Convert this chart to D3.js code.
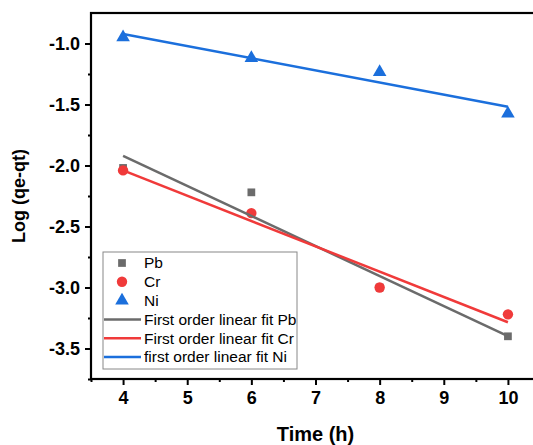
<!DOCTYPE html>
<html>
<head>
<meta charset="utf-8">
<script src="https://cdn.jsdelivr.net/npm/d3@7"></script>
<style>
  body { margin: 0; background: #fff; }
  svg { display: block; font-family: "Liberation Sans", Arial, sans-serif; }
</style>
</head>
<body>
<div id="chart"></div>
<script>
// Datos
var times = [4, 6, 8, 10];
var pb = [-2.02, -2.22, -3.0, -3.40];
var cr = [-2.04, -2.39, -3.0, -3.22];
var ni = [-0.95, -1.12, -1.235, -1.575];
var xTicks = [4, 5, 6, 7, 8, 9, 10];
var yTicks = [-1.0, -1.5, -2.0, -2.5, -3.0, -3.5];

var W = 533, H = 445;
var margin = {top: 13, left: 91};
var plotRight = 540, plotBottom = 379;

var svg = d3.select("#chart").append("svg")
  .attr("width", W).attr("height", H);

var x = d3.scaleLinear().domain([3.5, 10.5]).range([margin.left, plotRight]);
var y = d3.scaleLinear().domain([-3.75, -0.75]).range([plotBottom, margin.top]);

// ajuste lineal por minimos cuadrados
function fit(xs, ys) {
  var mx = d3.mean(xs), my = d3.mean(ys);
  var num = d3.sum(xs, function(d, i) { return (d - mx) * (ys[i] - my); });
  var den = d3.sum(xs, function(d) { return (d - mx) * (d - mx); });
  var b = num / den, a = my - b * mx;
  return function(t) { return a + b * t; };
}

var series = [
  {name: "Pb", vals: pb, color: "#6b6b6b", sym: d3.symbolSquare, size: 60, fitLabel: "First order linear fit Pb"},
  {name: "Cr", vals: cr, color: "#f03a3a", sym: d3.symbolCircle, size: 85, fitLabel: "First order linear fit Cr"},
  {name: "Ni", vals: ni, color: "#1b6fdc", sym: d3.symbolTriangle, size: 80, fitLabel: "first order linear fit Ni"}
];

// guion normal en vez del signo menos
function fmt(d) { return d3.format(".1f")(d).replace("\u2212", "-"); }

// Ejes
var xAxis = d3.axisBottom(x).tickValues(xTicks).tickSize(6).tickPadding(6).tickFormat(d3.format("d"));
var xMinor = d3.axisBottom(x).tickValues([3.5, 4.5, 5.5, 6.5, 7.5, 8.5, 9.5]).tickSize(3).tickFormat("");
var yAxis = d3.axisLeft(y).tickValues(yTicks).tickSize(6).tickPadding(5).tickFormat(fmt);
var yMinor = d3.axisLeft(y).tickValues([-1.25, -1.75, -2.25, -2.75, -3.25, -3.75]).tickSize(3).tickFormat("");

function styleAxis(g) {
  g.select(".domain").remove();
  g.selectAll("line").attr("stroke", "#000").attr("stroke-width", 2);
  g.selectAll("text").attr("fill", "#000").style("font-size", "18px").style("font-weight", "bold");
}

svg.append("g").attr("transform", "translate(0," + plotBottom + ")").call(xAxis).call(styleAxis);
svg.append("g").attr("transform", "translate(0," + plotBottom + ")").call(xMinor).call(styleAxis);
svg.append("g").attr("transform", "translate(" + margin.left + ",0)").call(yAxis).call(styleAxis);
svg.append("g").attr("transform", "translate(" + margin.left + ",0)").call(yMinor).call(styleAxis);

// Marco
svg.append("rect")
  .attr("x", margin.left).attr("y", margin.top)
  .attr("width", plotRight - margin.left).attr("height", plotBottom - margin.top)
  .attr("fill", "none").attr("stroke", "#000").attr("stroke-width", 2.2);

// Titulos
svg.append("text")
  .attr("x", (margin.left + plotRight) / 2).attr("y", 441)
  .attr("text-anchor", "middle")
  .style("font-size", "20px").style("font-weight", "bold")
  .text("Time (h)");

svg.append("text")
  .attr("transform", "translate(25,196) rotate(-90)")
  .attr("text-anchor", "middle")
  .style("font-size", "18px").style("font-weight", "bold")
  .text("Log (qe-qt)");

// Puntos
series.forEach(function(s) {
  svg.append("g").selectAll("path")
    .data(s.vals)
    .enter().append("path")
    .attr("transform", function(d, i) { return "translate(" + x(times[i]) + "," + y(d) + ")"; })
    .attr("d", d3.symbol().type(s.sym).size(s.size))
    .attr("fill", s.color);
});

// Lineas de ajuste
series.forEach(function(s) {
  var f = fit(times, s.vals);
  var x0 = d3.min(times), x1 = d3.max(times);
  svg.append("line")
    .attr("x1", x(x0)).attr("y1", y(f(x0)))
    .attr("x2", x(x1)).attr("y2", y(f(x1)))
    .attr("stroke", s.color).attr("stroke-width", 2.5);
});

// Leyenda
var lg = svg.append("g").attr("transform", "translate(103,252)");
lg.append("rect").attr("width", 194).attr("height", 117)
  .attr("fill", "#fff").attr("stroke", "#888").attr("stroke-width", 1);

var rowH = 18.8;
series.forEach(function(s, i) {
  var cy = 11 + i * rowH;
  lg.append("path")
    .attr("transform", "translate(19," + cy + ")")
    .attr("d", d3.symbol().type(s.sym).size(s.size))
    .attr("fill", s.color);
  lg.append("text").attr("x", 41).attr("y", cy).attr("dy", "0.35em")
    .style("font-size", "15.5px").text(s.name);
});
series.forEach(function(s, i) {
  var cy = 11 + (i + 3) * rowH;
  lg.append("line").attr("x1", 1).attr("x2", 38).attr("y1", cy).attr("y2", cy)
    .attr("stroke", s.color).attr("stroke-width", 2.5);
  lg.append("text").attr("x", 41).attr("y", cy).attr("dy", "0.35em")
    .style("font-size", "15.5px").text(s.fitLabel);
});
</script>
</body>
</html>
